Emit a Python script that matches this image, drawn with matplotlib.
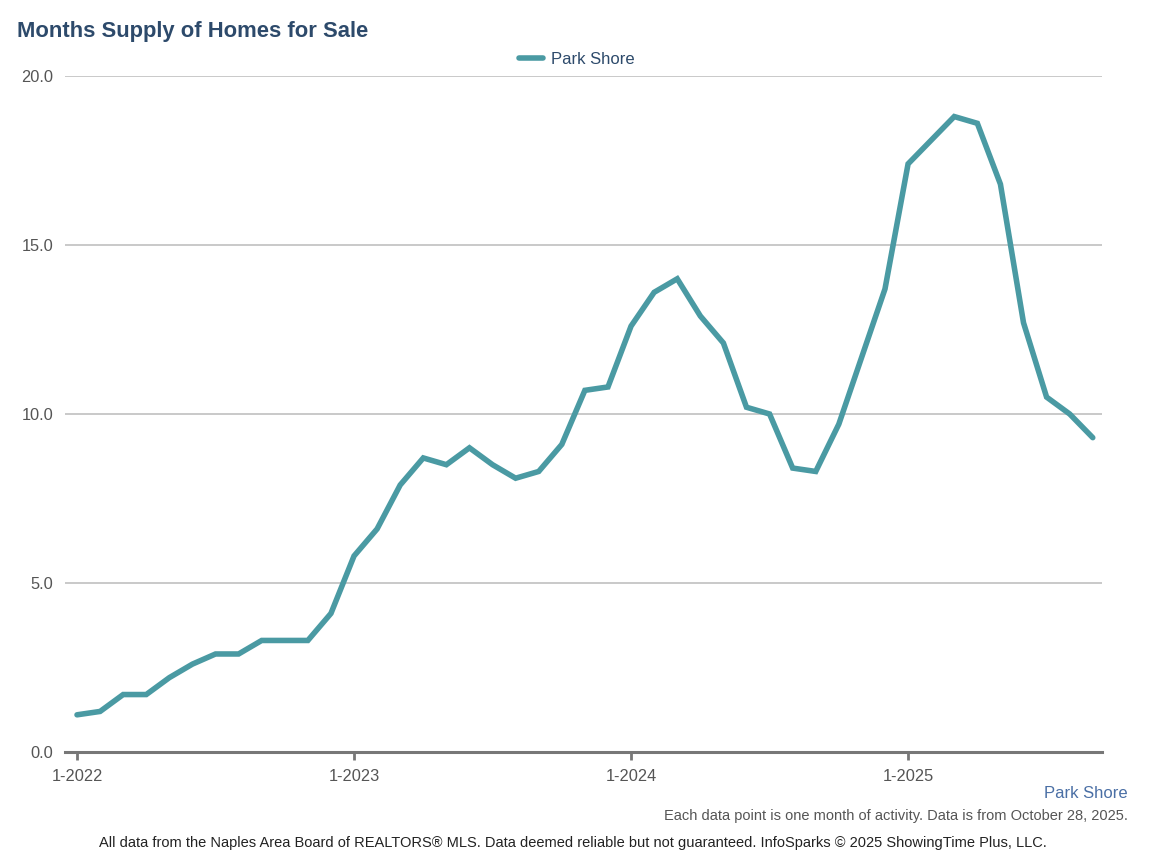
import matplotlib
matplotlib.use("Agg")
import matplotlib.pyplot as plt

plt.rcParams["font.family"] = ["Liberation Sans", "DejaVu Sans"]

# Months supply, monthly Jan 2022 .. Sep 2025
months = [f"{m}-{y}" for y in (2022, 2023, 2024, 2025) for m in range(1, 13)][:45]
park_shore = [
    1.1, 1.2, 1.7, 1.7, 2.2, 2.6, 2.9, 2.9, 3.3, 3.3, 3.3, 4.1,
    5.8, 6.6, 7.9, 8.7, 8.5, 9.0, 8.5, 8.1, 8.3, 9.1, 10.7, 10.8,
    12.6, 13.6, 14.0, 12.9, 12.1, 10.2, 10.0, 8.4, 8.3, 9.7, 11.7, 13.7,
    17.4, 18.1, 18.8, 18.6, 16.8, 12.7, 10.5, 10.0, 9.3,
]
year_ticks = ["1-2022", "1-2023", "1-2024", "1-2025"]
y_ticks = [0, 5, 10, 15, 20]

line_color = "#4a9aa3"
navy = "#2d4a6b"

fig = plt.figure(figsize=(11.5, 8.64), dpi=100)
ax = fig.add_axes([65 / 1150, 1 - 752 / 864, 1037 / 1150, 676 / 864])

x = list(range(len(park_shore)))
ax.plot(x, park_shore, color=line_color, lw=4.0, solid_joinstyle="miter",
        solid_capstyle="round", label="Park Shore", zorder=3)

ax.set_xlim(-0.52, 44.4)
ax.set_ylim(0, 20)
ax.set_yticks(y_ticks)
ax.set_yticklabels([f"{v:.1f}" for v in y_ticks])
ax.set_xticks([months.index(t) for t in year_ticks])
ax.set_xticklabels(year_ticks)

for v in y_ticks[1:]:
    ax.axhline(v, color="#bbbbbb", lw=1.1, zorder=1)

for s in ("top", "right", "left"):
    ax.spines[s].set_visible(False)
ax.spines["bottom"].set_color("#777777")
ax.spines["bottom"].set_linewidth(2.2)
ax.tick_params(axis="y", length=0, pad=8.5, labelsize=11.8, labelcolor="#555555")
ax.tick_params(axis="x", length=6, width=2, color="#777777", pad=6,
               labelsize=11.8, labelcolor="#555555")

fig.text(17 / 1150, 1 - 32 / 864, "Months Supply of Homes for Sale", fontsize=15.8,
         fontweight="bold", color=navy, va="center", ha="left")

leg = ax.legend(loc="center", bbox_to_anchor=(577 / 1150, 1 - 59 / 864),
                bbox_transform=fig.transFigure, frameon=False, fontsize=12,
                handlelength=1.4, handletextpad=0.5, borderpad=0)
for t in leg.get_texts():
    t.set_color(navy)

fig.text(1128 / 1150, 1 - 793 / 864, "Park Shore", fontsize=12, color="#4a6fa5",
         ha="right", va="center")
fig.text(1128 / 1150, 1 - 816 / 864,
         "Each data point is one month of activity. Data is from October 28, 2025.",
         fontsize=10.55, color="#555555", ha="right", va="center")
fig.text(573 / 1150, 1 - 843 / 864,
         "All data from the Naples Area Board of REALTORS\u00ae MLS. Data deemed reliable "
         "but not guaranteed. InfoSparks \u00a9 2025 ShowingTime Plus, LLC.",
         fontsize=10.55, color="#222222", ha="center", va="center")

fig.savefig("out.png", dpi=100)
